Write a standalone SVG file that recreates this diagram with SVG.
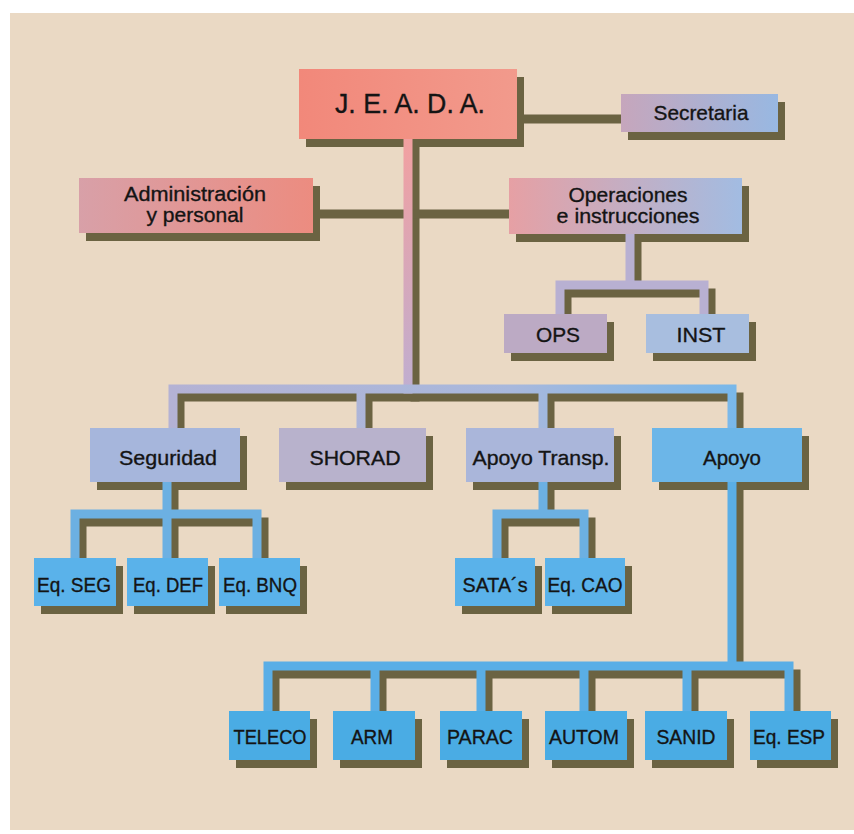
<svg xmlns="http://www.w3.org/2000/svg" width="854" height="834" viewBox="0 0 854 834">
<defs>
<linearGradient id="gJ" x1="0" x2="1" y1="0" y2="0"><stop offset="0" stop-color="#f2887a"/><stop offset="1" stop-color="#f29a8c"/></linearGradient>
<linearGradient id="gSec" x1="0" x2="1" y1="0" y2="0"><stop offset="0" stop-color="#c6a6bc"/><stop offset="1" stop-color="#98b8e2"/></linearGradient>
<linearGradient id="gAdm" x1="0" x2="1" y1="0" y2="0"><stop offset="0" stop-color="#d8a0a8"/><stop offset="1" stop-color="#ec8c80"/></linearGradient>
<linearGradient id="gOps" x1="0" x2="1" y1="0" y2="0"><stop offset="0" stop-color="#e6a0a4"/><stop offset="1" stop-color="#a2bce2"/></linearGradient>
<linearGradient id="gLine1" x1="0" x2="1" y1="0" y2="0"><stop offset="0" stop-color="#f0a0a0"/><stop offset="1" stop-color="#c4acc8"/></linearGradient>
<linearGradient id="gLine2" x1="0" x2="1" y1="0" y2="0"><stop offset="0" stop-color="#e89494"/><stop offset="1" stop-color="#d8a4b4"/></linearGradient>
<linearGradient id="gTrunk" gradientUnits="userSpaceOnUse" x1="0" y1="139" x2="0" y2="389"><stop offset="0" stop-color="#f2a0a0"/><stop offset="1" stop-color="#c0aed0"/></linearGradient>
<linearGradient id="gMain" gradientUnits="userSpaceOnUse" x1="170" y1="0" x2="740" y2="0"><stop offset="0" stop-color="#b4b2d4"/><stop offset="0.6" stop-color="#a8b8dc"/><stop offset="1" stop-color="#78b8ea"/></linearGradient>
<style>
.sh{fill:none;stroke:#6b6342;stroke-width:9;stroke-linecap:square}
.ln{fill:none;stroke-width:9;stroke-linecap:square}
.bs{fill:#6b6342}
.t{font-family:"Liberation Sans",Arial,Helvetica,sans-serif;fill:#141414;stroke:#141414;stroke-width:0.35;text-anchor:middle;font-size:21px}
.eq{fill:#5ab2ea}
.bt{fill:#4aace4}
</style>
</defs>
<rect x="0" y="0" width="854" height="834" fill="#ffffff"/>
<rect x="10" y="13" width="844" height="817" fill="#ead9c4"/>

<g id="shadows" transform="translate(7,8)">
<g class="sh">
<path d="M517 111H621"/>
<path d="M408 139V389"/>
<path d="M313 206H509"/>
<path d="M630 234V285M560 314V285H704V314"/>
<path d="M173 428V389H732V428M361 389V428M543 389V428"/>
<path d="M167 482V514M75 557V514H257V557M167 514V557"/>
<path d="M543 482V514M497 557V514H584V557"/>
<path d="M732 482V666M268 711V666H789V711M375 666V711M481 666V711M584 666V711M687 666V711"/>
</g>
<g class="bs">
<rect x="299" y="69" width="218" height="70"/>
<rect x="621" y="94" width="157" height="38"/>
<rect x="79" y="178" width="234" height="55"/>
<rect x="509" y="178" width="233" height="56"/>
<rect x="504" y="314" width="103" height="39"/>
<rect x="646" y="314" width="103" height="39"/>
<rect x="90" y="428" width="150" height="54"/>
<rect x="279" y="428" width="147" height="54"/>
<rect x="466" y="428" width="148" height="54"/>
<rect x="652" y="428" width="150" height="54"/>
<rect x="34" y="558" width="82" height="48"/>
<rect x="127" y="558" width="81" height="48"/>
<rect x="219" y="558" width="81" height="48"/>
<rect x="455" y="558" width="80" height="48"/>
<rect x="545" y="558" width="80" height="48"/>
<rect x="229" y="711" width="81" height="49"/>
<rect x="333" y="711" width="82" height="49"/>
<rect x="440" y="711" width="82" height="49"/>
<rect x="545" y="711" width="82" height="49"/>
<rect x="645" y="711" width="82" height="49"/>
<rect x="750" y="711" width="81" height="49"/>
</g>
</g>

<g id="connectors">
<path class="ln" stroke="url(#gLine1)" d="M517 111H621"/>
<path class="ln" stroke="url(#gTrunk)" d="M408 139V389"/>
<path class="ln" stroke="url(#gLine2)" d="M313 206H509"/>
<path class="ln" stroke="#b8b0d2" d="M630 234V285M560 314V285H704V314"/>
<path class="ln" stroke="url(#gMain)" d="M173 428V389H732V428M361 389V428M543 389V428"/>
<path class="ln" stroke="#6cb0e2" d="M167 482V514M75 558V514H257V558M167 514V558"/>
<path class="ln" stroke="#6cb0e2" d="M543 482V514M497 558V514H584V558"/>
<path class="ln" stroke="#5aaee6" d="M732 482V666M268 711V666H789V711M375 666V711M481 666V711M584 666V711M687 666V711"/>
</g>

<g id="n-jeada"><rect x="299" y="69" width="218" height="70" fill="url(#gJ)"/><text class="t" x="410" y="113" style="font-size:27px" textLength="150" lengthAdjust="spacingAndGlyphs">J. E. A. D. A.</text></g>
<g id="n-secretaria"><rect x="621" y="94" width="157" height="38" fill="url(#gSec)"/><text class="t" x="701" y="120" textLength="95" lengthAdjust="spacingAndGlyphs">Secretaria</text></g>
<g id="n-admin"><rect x="79" y="178" width="234" height="55" fill="url(#gAdm)"/><text class="t" x="195" y="201" textLength="142" lengthAdjust="spacingAndGlyphs">Administración</text><text class="t" x="195" y="222" textLength="97" lengthAdjust="spacingAndGlyphs">y personal</text></g>
<g id="n-operaciones"><rect x="509" y="178" width="233" height="56" fill="url(#gOps)"/><text class="t" x="628" y="202" textLength="119" lengthAdjust="spacingAndGlyphs">Operaciones</text><text class="t" x="628" y="223" textLength="143" lengthAdjust="spacingAndGlyphs">e instrucciones</text></g>
<g id="n-ops"><rect x="504" y="314" width="103" height="39" fill="#bcaac4"/><text class="t" x="558" y="342" textLength="44" lengthAdjust="spacingAndGlyphs">OPS</text></g>
<g id="n-inst"><rect x="646" y="314" width="103" height="39" fill="#a8bedf"/><text class="t" x="701" y="342" textLength="49" lengthAdjust="spacingAndGlyphs">INST</text></g>
<g id="n-seguridad"><rect x="90" y="428" width="150" height="54" fill="#a6b6dc"/><text class="t" x="168" y="465" textLength="98" lengthAdjust="spacingAndGlyphs">Seguridad</text></g>
<g id="n-shorad"><rect x="279" y="428" width="147" height="54" fill="#b8b2cc"/><text class="t" x="355" y="465" textLength="91" lengthAdjust="spacingAndGlyphs">SHORAD</text></g>
<g id="n-apoyotransp"><rect x="466" y="428" width="148" height="54" fill="#aab6da"/><text class="t" x="541" y="465" textLength="137" lengthAdjust="spacingAndGlyphs">Apoyo Transp.</text></g>
<g id="n-apoyo"><rect x="652" y="428" width="150" height="54" fill="#6cb6e8"/><text class="t" x="732" y="465" textLength="58" lengthAdjust="spacingAndGlyphs">Apoyo</text></g>
<g id="n-eqseg"><rect x="34" y="558" width="82" height="48" class="eq"/><text class="t" x="74" y="592" textLength="74" lengthAdjust="spacingAndGlyphs">Eq. SEG</text></g>
<g id="n-eqdef"><rect x="127" y="558" width="81" height="48" class="eq"/><text class="t" x="168" y="592" textLength="70" lengthAdjust="spacingAndGlyphs">Eq. DEF</text></g>
<g id="n-eqbnq"><rect x="219" y="558" width="81" height="48" class="eq"/><text class="t" x="260" y="592" textLength="74" lengthAdjust="spacingAndGlyphs">Eq. BNQ</text></g>
<g id="n-satas"><rect x="455" y="558" width="80" height="48" class="eq"/><text class="t" x="495" y="592" textLength="65" lengthAdjust="spacingAndGlyphs">SATA´s</text></g>
<g id="n-eqcao"><rect x="545" y="558" width="80" height="48" class="eq"/><text class="t" x="585" y="592" textLength="75" lengthAdjust="spacingAndGlyphs">Eq. CAO</text></g>
<g id="n-teleco"><rect x="229" y="711" width="81" height="49" class="bt"/><text class="t" x="270" y="744" textLength="73" lengthAdjust="spacingAndGlyphs">TELECO</text></g>
<g id="n-arm"><rect x="333" y="711" width="82" height="49" class="bt"/><text class="t" x="372" y="744" textLength="42" lengthAdjust="spacingAndGlyphs">ARM</text></g>
<g id="n-parac"><rect x="440" y="711" width="82" height="49" class="bt"/><text class="t" x="480" y="744" textLength="66" lengthAdjust="spacingAndGlyphs">PARAC</text></g>
<g id="n-autom"><rect x="545" y="711" width="82" height="49" class="bt"/><text class="t" x="584" y="744" textLength="70" lengthAdjust="spacingAndGlyphs">AUTOM</text></g>
<g id="n-sanid"><rect x="645" y="711" width="82" height="49" class="bt"/><text class="t" x="686" y="744" textLength="59" lengthAdjust="spacingAndGlyphs">SANID</text></g>
<g id="n-eqesp"><rect x="750" y="711" width="81" height="49" class="bt"/><text class="t" x="789" y="744" textLength="72" lengthAdjust="spacingAndGlyphs">Eq. ESP</text></g>
</svg>
